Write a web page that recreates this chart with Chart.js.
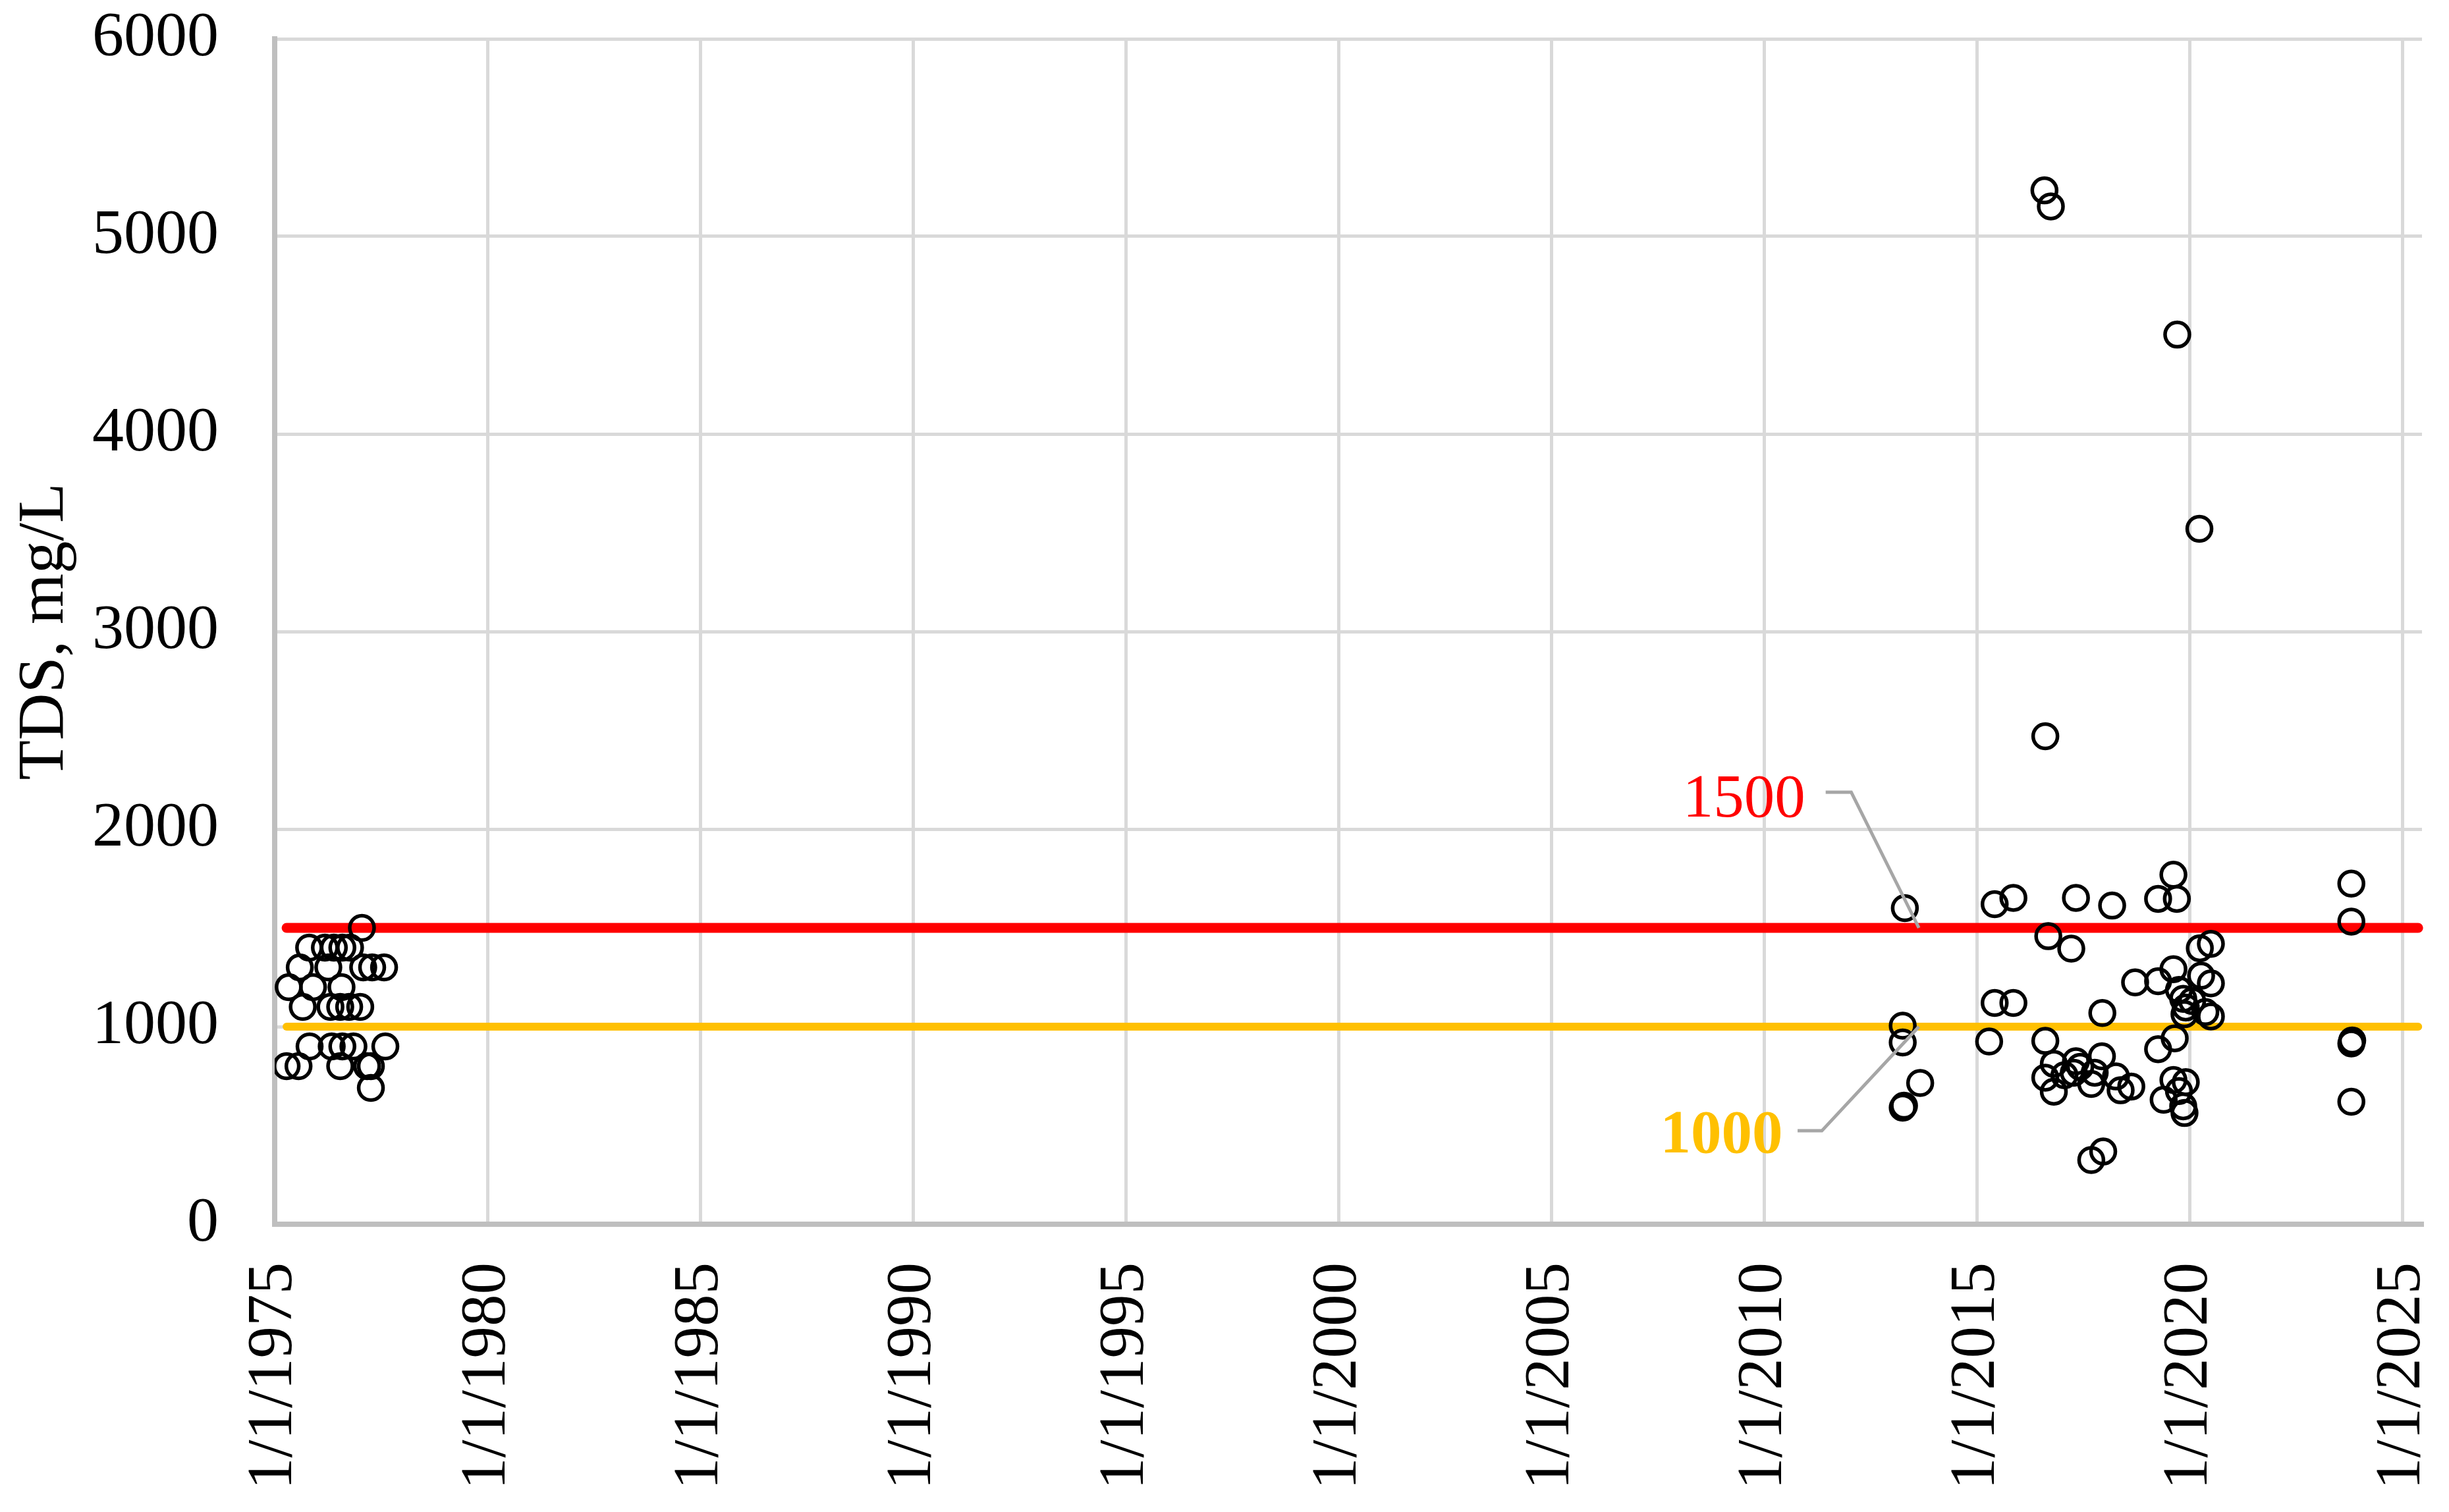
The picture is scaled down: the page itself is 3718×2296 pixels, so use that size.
<!DOCTYPE html>
<html>
<head>
<meta charset="utf-8">
<script src="https://cdn.jsdelivr.net/npm/chart.js@4.4.1/dist/chart.umd.min.js"></script>
<style>
  html, body { margin: 0; padding: 0; background: #fff; }
  #wrap { width: 3718px; height: 2296px; }
</style>
</head>
<body>
<div id="wrap"><canvas id="tdsChart" width="3718" height="2296"></canvas></div>
<script>
// sample dates as decimal years, TDS in mg/L
const sampleYears = [
  1975.28, 1975.33, 1975.56, 1975.59, 1975.66, 1975.81, 1975.82, 1975.90,
  1976.18, 1976.26, 1976.31, 1976.34, 1976.39, 1976.54, 1976.54, 1976.57,
  1976.59, 1976.59, 1976.75, 1976.77, 1976.85, 1977.01, 1977.05, 1977.08,
  1977.17, 1977.26, 1977.26, 1977.29, 1977.57, 1977.60,
  2013.25, 2013.25, 2013.30, 2013.66, 2013.25, 2013.28,
  2015.28, 2015.41, 2015.41, 2015.85, 2015.85,
  2016.58, 2016.73, 2016.60, 2016.67, 2016.60, 2016.80, 2016.60, 2016.80,
  2017.05, 2017.21, 2017.32, 2017.32, 2017.27, 2017.42, 2017.68, 2017.76,
  2017.93, 2017.94, 2017.68, 2017.96,
  2018.17, 2018.26, 2018.37, 2018.62, 2018.71,
  2019.25, 2019.61, 2019.25, 2019.69, 2019.61, 2019.70,
  2020.22, 2020.23, 2020.49, 2020.26, 2020.49,
  2019.74, 2019.84, 2019.90, 2019.87, 2020.05, 2020.36, 2020.49,
  2019.64, 2019.25, 2019.38, 2019.61, 2019.90, 2019.74, 2019.84, 2019.87,
  2023.79, 2023.79, 2023.79, 2023.81, 2023.79
];
const tdsValues = [
  800, 1200, 800, 1300, 1100, 1400, 900, 1200,
  1400, 1300, 1100, 900, 1400, 1100, 800, 1200,
  1400, 900, 1100, 1400, 900, 1100, 1500, 1300,
  800, 800, 690, 1300, 1300, 900,
  1005, 920, 1600, 715, 590, 600,
  925, 1620, 1120, 1652, 1120,
  5233, 5152, 2470, 1458, 928, 812, 742, 671,
  754, 1395, 1652, 825, 767, 797, 710, 767,
  850, 1069, 325, 368,
  1613, 748, 678, 697, 1224,
  1230, 1291, 1647, 1647, 1769, 4503,
  3520, 1397, 1419, 1258, 1219,
  1186, 1141, 1097, 1063, 1130, 1074, 1052,
  941, 886, 630, 730, 719, 674, 597, 563,
  1724, 1532, 915, 930, 620
];

// guideline lines (mg/L)
const limitYears = [1975.28, 2025.36];
const upperLimit = [1500, 1500];
const lowerLimit = [1000, 1000];

// axis ticks
const xTickYears = [1975, 1980, 1985, 1990, 1995, 2000, 2005, 2010, 2015, 2020, 2025];
const yTickValues = [0, 1000, 2000, 3000, 4000, 5000, 6000];

// callout labels for the two lines, in data units
const limitNotes = [
  { text: '1500', color: '#FF0000', bold: false, at: [2010.96, 2063],
    leader: [[2011.44, 2187], [2012.04, 2187], [2013.63, 1500]] },
  { text: '1000', color: '#FFC000', bold: true, at: [2010.43, 363],
    leader: [[2010.78, 473], [2011.35, 473], [2013.63, 1000]] }
];

const serif = 'Liberation Serif, Times New Roman, serif';

const limitLabelPlugin = {
  id: 'limitLabels',
  afterDatasetsDraw(chart) {
    const { ctx } = chart;
    const xs = chart.scales.x, ys = chart.scales.y;
    limitNotes.forEach(n => {
      ctx.save();
      ctx.strokeStyle = '#A6A6A6';
      ctx.lineWidth = 5;
      ctx.beginPath();
      n.leader.forEach((p, i) => {
        const px = xs.getPixelForValue(p[0]);
        const py = ys.getPixelForValue(p[1]);
        if (i === 0) ctx.moveTo(px, py); else ctx.lineTo(px, py);
      });
      ctx.stroke();
      ctx.font = (n.bold ? 'bold ' : '') + '93px ' + serif;
      ctx.fillStyle = n.color;
      ctx.textAlign = 'right';
      ctx.textBaseline = 'alphabetic';
      ctx.fillText(n.text, xs.getPixelForValue(n.at[0]), ys.getPixelForValue(n.at[1]));
      ctx.restore();
    });
  }
};

// fixed axis sizes; drop the label overhang so the layout padding decides the plot box
function fixAxis(s, size) {
  if (s.isHorizontal()) s.height = size; else s.width = size;
  s.paddingTop = s.paddingBottom = s.paddingLeft = s.paddingRight = 0;
}

const gridStyle = { color: '#D9D9D9', lineWidth: 5, drawTicks: false };
const borderStyle = { color: '#BFBFBF', width: 8 };

new Chart(document.getElementById('tdsChart').getContext('2d'), {
  type: 'scatter',
  data: {
    datasets: [
      {
        label: 'TDS',
        data: sampleYears.map((x, i) => ({ x: x, y: tdsValues[i] })),
        pointStyle: 'circle',
        pointRadius: 18.5,
        pointBorderWidth: 5.5,
        pointBorderColor: '#000000',
        pointBackgroundColor: 'rgba(0,0,0,0)',
        showLine: false,
        order: 0
      },
      {
        label: '1500',
        type: 'line',
        data: limitYears.map((x, i) => ({ x: x, y: upperLimit[i] })),
        borderColor: '#FF0000',
        borderWidth: 15,
        borderCapStyle: 'round',
        pointRadius: 0,
        clip: false,
        order: 1
      },
      {
        label: '1000',
        type: 'line',
        data: limitYears.map((x, i) => ({ x: x, y: lowerLimit[i] })),
        borderColor: '#FFC000',
        borderWidth: 12,
        borderCapStyle: 'round',
        pointRadius: 0,
        clip: false,
        order: 2
      }
    ]
  },
  options: {
    responsive: false,
    animation: false,
    devicePixelRatio: 1,
    layout: { padding: { top: 59, right: 41, left: 0, bottom: 0 } },
    plugins: { legend: { display: false }, tooltip: { enabled: false } },
    scales: {
      x: {
        type: 'linear',
        min: 1975,
        max: 2025.45,
        afterBuildTicks: s => { s.ticks = xTickYears.map(v => ({ value: v })); },
        afterFit: s => fixAxis(s, 437),
        ticks: {
          callback: v => '1/1/' + v,
          autoSkip: false,
          minRotation: 90,
          maxRotation: 90,
          padding: 58,
          color: '#000000',
          font: { family: serif, size: 97 }
        },
        grid: gridStyle,
        border: borderStyle
      },
      y: {
        min: 0,
        max: 6000,
        afterBuildTicks: s => { s.ticks = yTickValues.map(v => ({ value: v })); },
        afterFit: s => fixAxis(s, 417),
        ticks: {
          callback: v => String(v),
          padding: 85,
          color: '#000000',
          font: { family: serif, size: 96 }
        },
        grid: gridStyle,
        border: borderStyle,
        title: {
          display: true,
          text: 'TDS, mg/L',
          color: '#000000',
          font: { family: serif, size: 99 },
          padding: { top: 10, bottom: 0 }
        }
      }
    }
  },
  plugins: [limitLabelPlugin]
});
</script>
</body>
</html>
